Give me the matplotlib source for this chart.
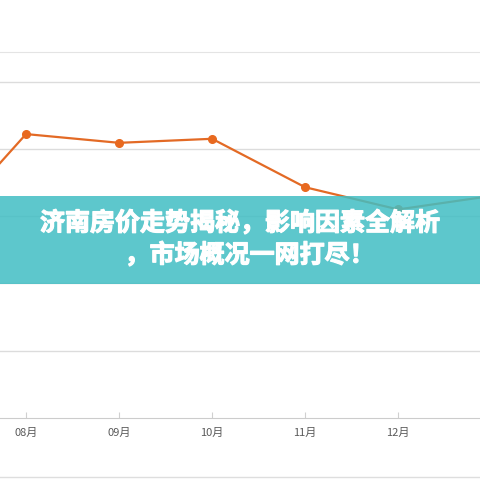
import matplotlib
matplotlib.use('Agg')
import matplotlib.pyplot as plt
import matplotlib.patheffects as pe
from matplotlib.patches import Rectangle
from matplotlib.lines import Line2D

plt.rcParams['font.family'] = ['Noto Sans CJK SC', 'DejaVu Sans']

# monthly values (07 .. next 01), only 08-12 are labelled
months = ['07月', '08月', '09月', '10月', '11月', '12月', '01月']
prices = [15680, 17220, 17090, 17150, 16430, 16100, 16300]
shown = ['08月', '09月', '10月', '11月', '12月']
title_lines = ['济南房价走势揭秘，影响因素全解析', '，市场概况一网打尽！']

fig = plt.figure(figsize=(4.8, 4.8), dpi=100)
ax = fig.add_axes([0, 1 - 418/480, 1, 366/480])

x = list(range(len(months)))
ax.plot(x, prices, color='#e36a25', lw=1.6, marker='o', ms=5.5,
        markerfacecolor='#e8691f', markeredgecolor='#e8691f', zorder=3)

ax.set_xlim(0.72, 5.88)
ax.set_ylim(13000, 18440)
ax.set_yticks([14000, 15000, 16000, 17000, 18000])
ax.yaxis.grid(True, color='#dcdcdc', lw=1)
ax.tick_params(axis='y', left=False, labelleft=False)

ticks = [months.index(m) for m in shown]
ax.set_xticks(ticks)
ax.set_xticklabels(shown)
ax.tick_params(axis='x', direction='in', length=4, color='#d0d0d0',
               labelsize=8, labelcolor='#5a5a5a', pad=7)

for s in ['left', 'right']:
    ax.spines[s].set_visible(False)
ax.spines['bottom'].set_color('#cccccc')
ax.spines['top'].set_color('#e4e4e4')

# bottom frame line
fig.add_artist(Line2D([0, 1], [1 - 477/480] * 2, color='#dedede', lw=1))

# banner overlay
fig.patches.append(Rectangle((0, 1 - 284/480), 1, 88/480, transform=fig.transFigure,
                             facecolor='#41bec4', alpha=0.85, zorder=10))
thick = [pe.withStroke(linewidth=0.9, foreground='white')]
fig.text(0.5, 1 - 223/480, title_lines[0], ha='center', va='center', color='white',
         fontsize=18, fontweight='bold', zorder=11, path_effects=thick)
fig.text(0.52, 1 - 255/480, title_lines[1], ha='center', va='center', color='white',
         fontsize=18, fontweight='bold', zorder=11, path_effects=thick)

fig.savefig('out.png', dpi=100)
